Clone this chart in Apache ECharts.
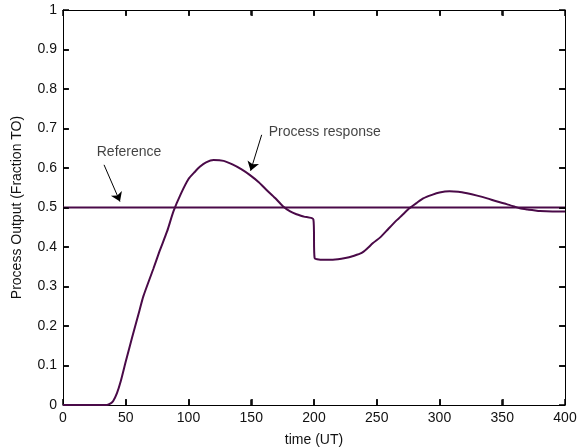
<!DOCTYPE html>
<html>
<head>
<meta charset="utf-8">
<script src="https://cdn.jsdelivr.net/npm/echarts@6/dist/echarts.min.js"></script>
<style>
  html, body { margin: 0; padding: 0; background: #fff; }
  #main { width: 580px; height: 448px; }
</style>
</head>
<body>
<div id="main"></div>
<script>
// process response
const timeVals = [0, 35, 38, 40, 43, 46, 50, 55, 61, 64, 72, 77, 83, 88, 94, 100, 105, 109, 114, 120,
    128, 135, 142, 149, 156, 162, 169, 175, 181, 186, 192, 199.5, 200.5, 205, 215, 225, 232, 238, 242,
    247, 253, 259, 266, 271, 276, 282, 287, 294, 300, 308, 315, 322, 330, 338, 346, 354, 360, 364,
    370, 375, 380, 390, 400];
const respVals = [0, 0, 0.004, 0.01, 0.03, 0.06, 0.11, 0.17, 0.24, 0.275, 0.345, 0.39, 0.44, 0.49, 0.535, 0.572, 0.59, 0.603, 0.614, 0.62,
    0.618, 0.609, 0.597, 0.582, 0.564, 0.545, 0.524, 0.504, 0.49, 0.483, 0.477, 0.47, 0.372, 0.368, 0.368, 0.372, 0.378, 0.385, 0.395,
    0.41, 0.425, 0.445, 0.468, 0.483, 0.498, 0.512, 0.523, 0.532, 0.538, 0.541, 0.54, 0.536, 0.53, 0.523, 0.515, 0.508, 0.502, 0.498,
    0.495, 0.493, 0.491, 0.49, 0.49];

const refTime = [0, 400];
const refVals = [0.5, 0.5];

const xTicks = [0, 50, 100, 150, 200, 250, 300, 350, 400];
const yTicks = [0, 0.1, 0.2, 0.3, 0.4, 0.5, 0.6, 0.7, 0.8, 0.9, 1];

// annotation texts and arrows (data coordinates)
const noteNames = ['Reference', 'Process response'];
const notePos = [[26.5, 0.641], [163.5, 0.692]];
const arrowFrom = [[32.7, 0.608], [158.3, 0.684]];
const arrowTo = [[45.4, 0.515], [149.5, 0.593]];

const lineColor = '#4a0a48';
const font = 'Liberation Sans, Arial, sans-serif';

const chart = echarts.init(document.getElementById('main'));

// fresh objects per axis (echarts mutates shared ones)
const axisLine = () => ({ show: true, onZero: false, lineStyle: { color: '#000', width: 1 } });
const tick = () => ({ show: true, inside: true, length: 6, lineStyle: { color: '#000', width: 1.5 } });

// inward tick marks on all four sides, as short segments in data units
const xLen = 4.5, yLen = 0.014;
const tickSegs = [];
xTicks.slice(1, -1).forEach((x) => {
    tickSegs.push([{ coord: [x, 0] }, { coord: [x, yLen] }]);
    tickSegs.push([{ coord: [x, 1] }, { coord: [x, 1 - yLen] }]);
});
yTicks.slice(1, -1).forEach((y) => {
    tickSegs.push([{ coord: [0, y] }, { coord: [xLen, y] }]);
    tickSegs.push([{ coord: [400, y] }, { coord: [400 - xLen, y] }]);
});

option = {
    animation: false,
    title: { text: '', show: false },
    grid: { left: 63, right: 15, top: 10, bottom: 43, outerBoundsMode: 'none' },
    xAxis: [
        {
            type: 'value', min: 0, max: 400, interval: 50,
            name: 'time (UT)', nameLocation: 'middle', nameGap: 28,
            nameTextStyle: { color: '#111', fontSize: 14, fontFamily: font },
            axisLine: axisLine(), axisTick: tick(), splitLine: { show: false },
            axisLabel: { color: '#111', fontSize: 14, fontFamily: font, margin: 6 }
        },
        {
            type: 'value', min: 0, max: 400, interval: 50, position: 'top',
            axisLine: axisLine(), axisTick: tick(), splitLine: { show: false },
            axisLabel: { show: false }
        }
    ],
    yAxis: [
        {
            type: 'value', min: 0, max: 1, interval: 0.1,
            name: 'Process Output (Fraction TO)', nameLocation: 'middle', nameGap: 39,
            nameTextStyle: { color: '#111', fontSize: 14, fontFamily: font },
            axisLine: axisLine(), axisTick: tick(), splitLine: { show: false },
            axisLabel: {
                color: '#111', fontSize: 14, fontFamily: font, margin: 6,
                formatter: (v) => yTicks.includes(+v.toFixed(1)) ? String(+v.toFixed(1)) : ''
            }
        },
        {
            type: 'value', min: 0, max: 1, interval: 0.1, position: 'right',
            axisLine: axisLine(), axisTick: tick(), splitLine: { show: false },
            axisLabel: { show: false }
        }
    ],
    series: [
        {
            // on the top/right axes (same scales) so the frame axes are drawn
            name: 'Reference',
            type: 'line',
            xAxisIndex: 1, yAxisIndex: 1,
            data: refTime.map((t, i) => [t, refVals[i]]),
            symbol: 'none',
            lineStyle: { color: lineColor, width: 2 },
            z: 2,
            markLine: {
                silent: true,
                symbol: 'none',
                lineStyle: { color: '#000', width: 1.5, type: 'solid' },
                label: { show: false },
                data: tickSegs
            }
        },
        {
            name: 'Process response',
            type: 'line',
            data: timeVals.map((t, i) => [t, respVals[i]]),
            symbol: 'none',
            smooth: 0.2,
            lineStyle: { color: lineColor, width: 2 },
            z: 3,
            markLine: {
                silent: true,
                symbol: ['none', 'arrow'],
                symbolSize: 9,
                lineStyle: { color: '#000', width: 1, type: 'solid' },
                label: { show: false },
                data: arrowFrom.map((p, i) => [{ coord: p }, { coord: arrowTo[i] }])
            }
        },
        {
            name: 'notes',
            type: 'scatter',
            silent: true,
            symbolSize: 1,
            itemStyle: { color: 'rgba(0,0,0,0)' },
            data: notePos.map((p, i) => ({ name: noteNames[i], value: p })),
            label: {
                show: true, position: 'right', distance: 0,
                color: '#111', fontSize: 14, fontFamily: font,
                formatter: (p) => p.name
            },
            z: 4
        }
    ]
};

chart.setOption(option);
</script>
</body>
</html>
